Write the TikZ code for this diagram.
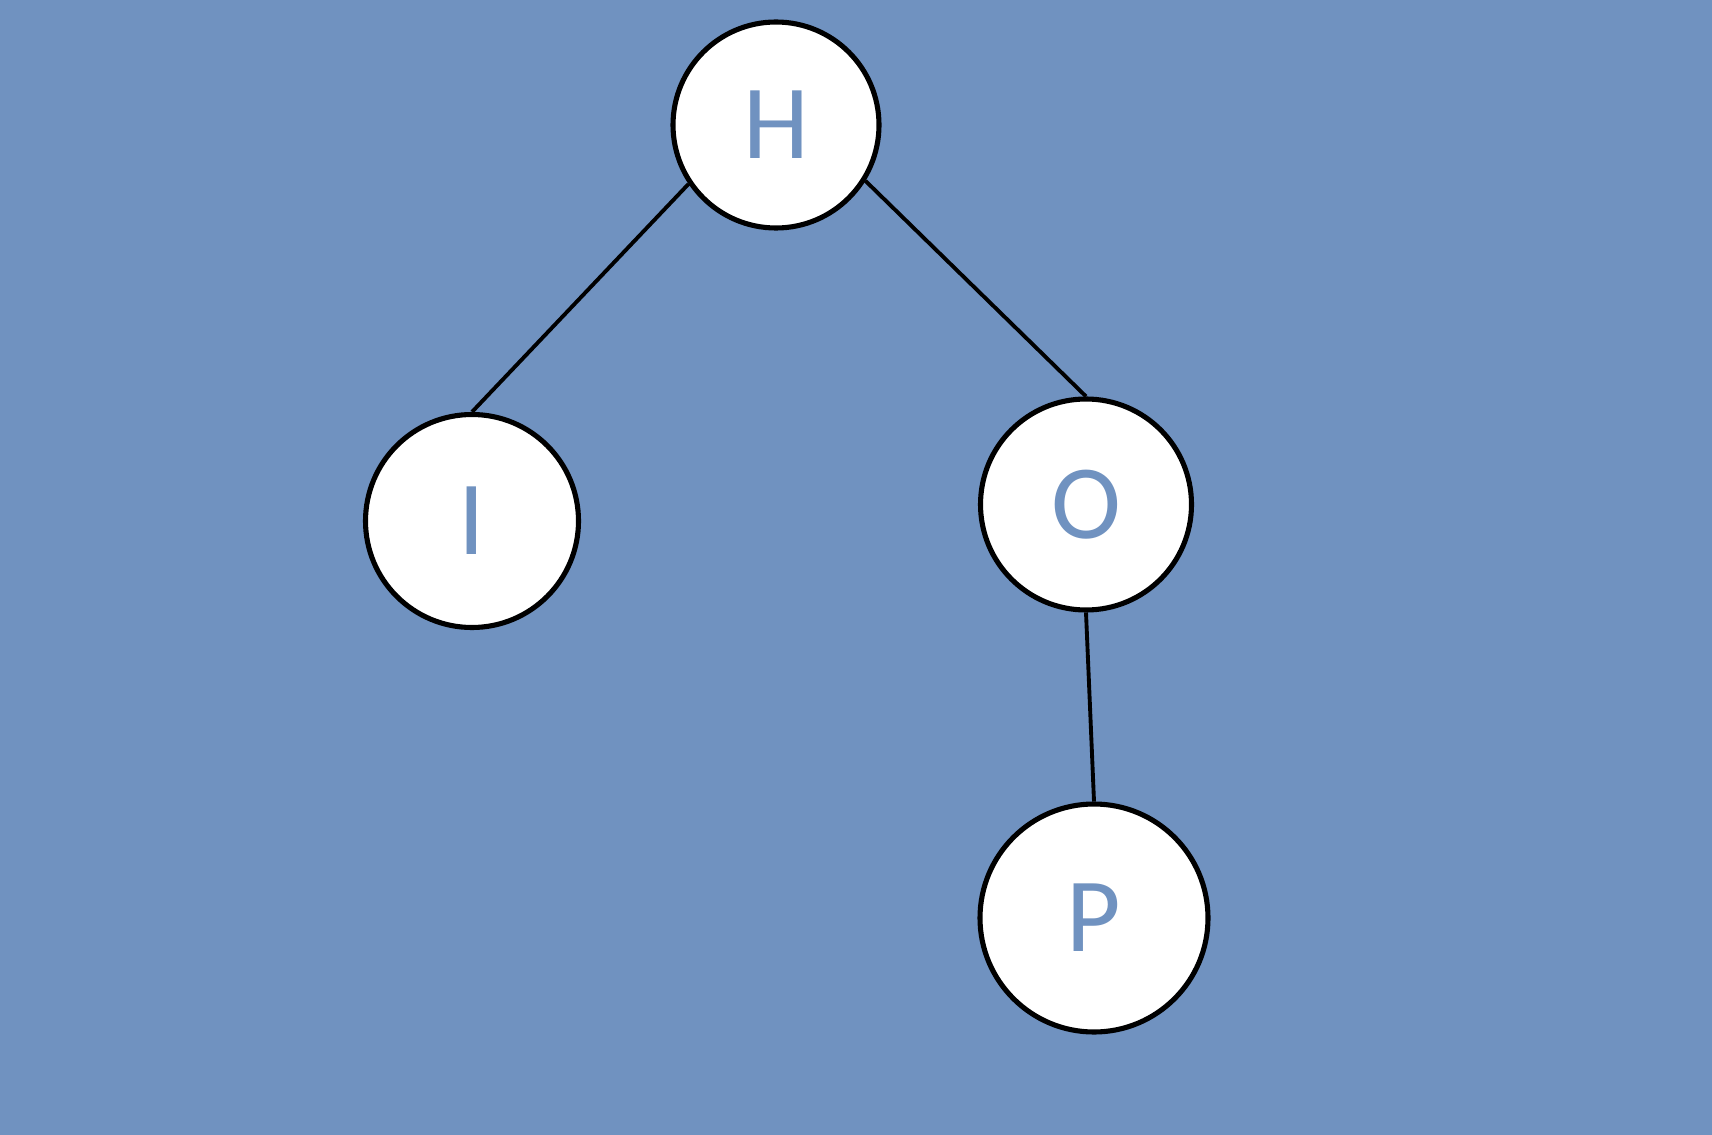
\documentclass[tikz,border=0pt]{standalone}
\usepackage{fontspec}
\setmainfont{Carlito}
\definecolor{pozadi}{RGB}{112,146,192}

\begin{document}
\begin{tikzpicture}[y={(0cm,-1cm)},
  uzel/.style={circle, draw=black, fill=white, line width=1.45pt, inner sep=0pt,
    text=pozadi, font=\fontsize{30}{30}\selectfont},
  hrana/.style={black, line width=1.1pt}]

  % Pozadí
  \fill[pozadi] (0,0) rectangle (17.12,11.35);
  \useasboundingbox (0,0) rectangle (17.12,11.35);

  % Uzly stromu
  \node[uzel, minimum size=2.06cm] (H) at (7.76,1.25) {H};
  \node[uzel, minimum size=2.13cm] (I) at (4.72,5.21) {I};
  \node[uzel, minimum size=2.11cm] (O) at (10.86,5.045) {O};
  \node[uzel, minimum size=2.28cm] (P) at (10.94,9.18) {P};

  % Hrany
  \draw[hrana] (H.214) -- (I.north);
  \draw[hrana] (H.328) -- (O.north);
  \draw[hrana] (O.south) -- (P.north);
\end{tikzpicture}
\end{document}
